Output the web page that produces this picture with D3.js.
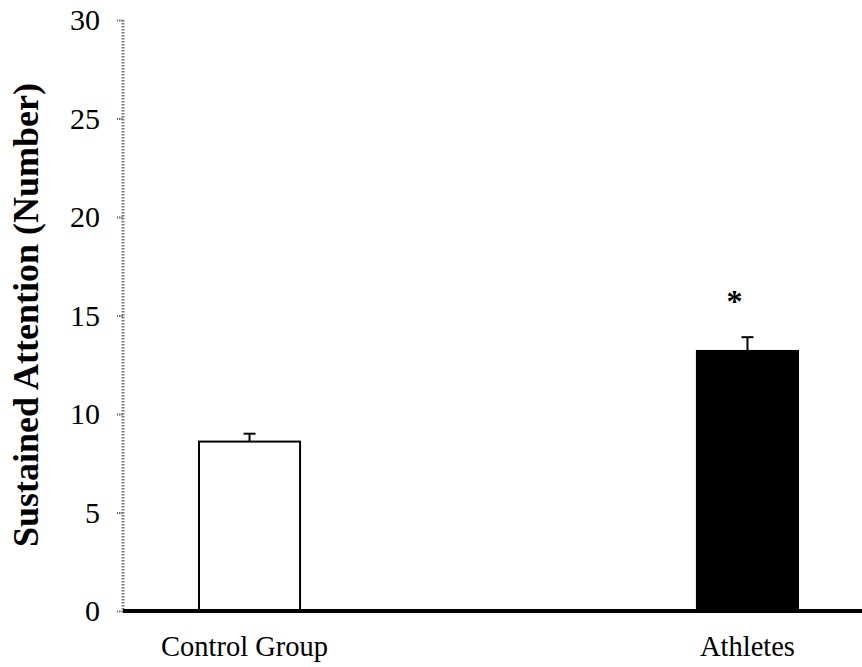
<!DOCTYPE html>
<html>
<head>
<meta charset="utf-8">
<script src="https://cdn.jsdelivr.net/npm/d3@7"></script>
<style>
  html, body { margin: 0; padding: 0; background: #fff; }
  svg { display: block; }
  text { font-family: "Liberation Serif", "Times New Roman", serif; fill: #000; }
</style>
</head>
<body>
<svg id="chart" width="862" height="667"></svg>
<script>
const categories = ["Control Group", "Athletes"];
const means = [8.6, 13.2];
const errors = [0.4, 0.7];
const fills = ["#ffffff", "#000000"];
const significance = ["", "*"];
const yTicks = [0, 5, 10, 15, 20, 25, 30];
const yTitle = "Sustained Attention (Number)";

const svg = d3.select("#chart");
const x0 = 123, x1 = 862, yTop = 20, yBottom = 611;

const y = d3.scaleLinear().domain([0, 30]).range([yBottom, yTop]);
const x = d3.scaleBand().domain(categories).range([x0, 874]).paddingInner(0.797).paddingOuter(0.1526);

// Y axis
const yAxis = d3.axisLeft(y).tickValues(yTicks).tickSize(6).tickPadding(17);
const gy = svg.append("g").attr("transform", `translate(${x0},0)`).call(yAxis);
gy.select(".domain").remove();
gy.selectAll(".tick line").attr("stroke", "#666").attr("stroke-width", 2).attr("stroke-dasharray", "1.5,1");
gy.selectAll(".tick text").style("font-size", "30px").style("font-family", "'Liberation Serif', serif").attr("fill", "#000");
svg.append("line")
  .attr("x1", x0).attr("x2", x0).attr("y1", yTop).attr("y2", yBottom)
  .attr("stroke", "#777").attr("stroke-width", 3).attr("stroke-dasharray", "1.5,1.5");

// Bars
const bw = x.bandwidth();
svg.selectAll("rect.bar").data(categories).enter().append("rect")
  .attr("class", "bar")
  .attr("x", d => x(d))
  .attr("y", (d, i) => y(means[i]))
  .attr("width", bw)
  .attr("height", (d, i) => y(0) - y(means[i]))
  .attr("fill", (d, i) => fills[i])
  .attr("stroke", "#000").attr("stroke-width", 2);

// Error bars
categories.forEach((c, i) => {
  const cx = x(c) + bw / 2;
  svg.append("line").attr("x1", cx).attr("x2", cx)
    .attr("y1", y(means[i])).attr("y2", y(means[i] + errors[i]))
    .attr("stroke", "#000").attr("stroke-width", 2);
  svg.append("line").attr("x1", cx - 6).attr("x2", cx + 6)
    .attr("y1", y(means[i] + errors[i])).attr("y2", y(means[i] + errors[i]))
    .attr("stroke", "#000").attr("stroke-width", 2);
  if (significance[i]) {
    svg.append("text").attr("x", cx - 13).attr("y", y(means[i] + errors[i]) - 25)
      .attr("text-anchor", "middle").style("font-size", "32px").style("font-weight", "bold")
      .text(significance[i]);
  }
});

// X axis line
svg.append("line").attr("x1", x0).attr("x2", x1).attr("y1", yBottom).attr("y2", yBottom)
  .attr("stroke", "#000").attr("stroke-width", 4);

// X labels
const xAxis = d3.axisBottom(x).tickSize(0).tickPadding(25);
const gx = svg.append("g").attr("transform", `translate(0,${yBottom})`).call(xAxis);
gx.select(".domain").remove();
gx.selectAll(".tick text").style("font-size", "28.5px").style("font-family", "'Liberation Serif', serif").attr("fill", "#000")
  .attr("dx", (d, i) => i === 0 ? -5 : 0);

// Y title
svg.append("text")
  .attr("transform", `translate(38,315) rotate(-90)`)
  .attr("text-anchor", "middle")
  .style("font-size", "36px").style("font-weight", "bold")
  .text(yTitle);
</script>
</body>
</html>
